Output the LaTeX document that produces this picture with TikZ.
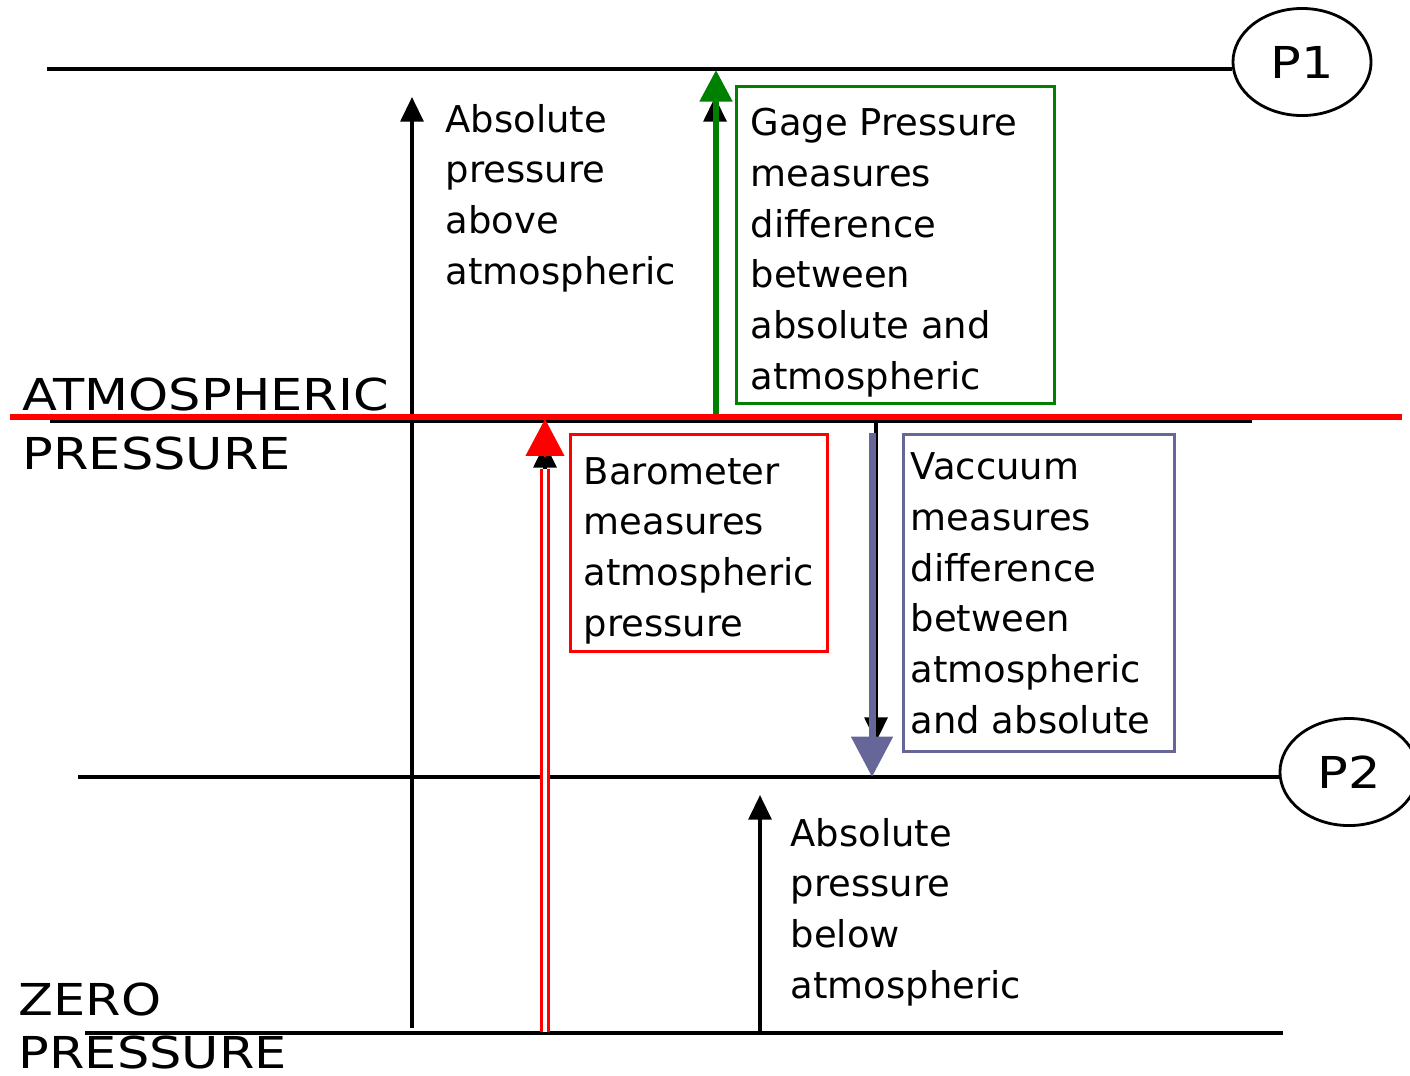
\documentclass[tikz,border=0pt]{standalone}
\usepackage{fontspec}
\setmainfont{DejaVu Sans}
\newfontfamily\bigfont[FakeStretch=1.16]{DejaVu Sans}
\usetikzlibrary{arrows.meta,shapes.geometric,calc}
\definecolor{gagegreen}{RGB}{0,128,0}
\definecolor{vacblue}{RGB}{102,102,153}
\begin{document}
\begin{tikzpicture}[x=0.01cm,y=-0.01cm,
  hl/.style={line width=1pt,black},
  lbl/.style={font=\fontsize{10.5}{14.4}\selectfont,align=left,anchor=base west,inner sep=0pt},
  biglbl/.style={font=\bigfont\fontsize{12.5}{15}\selectfont,anchor=base west,inner sep=0pt},
  blk/.style={line width=1pt,black,-{Triangle[width=6.5pt,length=7pt]}},
  ell/.style={draw,ellipse,line width=0.8pt,minimum width=1.38cm,minimum height=1.07cm,inner sep=0pt,font=\bigfont\fontsize{12.5}{15}\selectfont},
  boxfr/.style={anchor=north west,inner sep=0pt,line width=0.9pt}]
\useasboundingbox (0,0) rectangle (1410,1075);

% pressure reference ellipses
\node[ell] (p1) at (1302,62) {P1};
\node[ell] (p2) at (1349,772) {P2};

% horizontal levels
\coordinate (t0) at (47,69);
\draw[hl] (t0) -- (t0 -| p1.west);
\coordinate (m0) at (78,777);
\draw[hl] (m0) -- (m0 -| p2.west);
\coordinate (z0) at (85,1033);
\coordinate (z1) at (1283,1033);
\draw[hl] (z0) -- (z1);
\coordinate (b0) at (50,421);
\coordinate (b1) at (1252,421);
\draw[hl] (b0) -- (b1);

% vertical arrows (black)
\coordinate (a1s) at (412,1028);
\coordinate (a1e) at (412,97);
\draw[blk] (a1s) -- (a1e);
\coordinate (a2s) at (715,415);
\coordinate (a2e) at (715,97);
\draw[blk] (a2s) -- (a2e);
\coordinate (a3s) at (545,1030);
\coordinate (a3e) at (545,443);
\draw[blk] (a3s) -- (a3e);
\coordinate (a4s) at (876,421);
\coordinate (a4e) at (876,742);
\draw[blk] (a4s) -- (a4e);
\coordinate (a5s) at (760,1032);
\coordinate (a5e) at (760,795);
\draw[blk] (a5s) -- (a5e);

% gage (green)
\coordinate (gs) at (716,415);
\coordinate (ge) at (716,70);
\draw[gagegreen,line width=1.8pt,-{Triangle[width=9pt,length=9pt]}] (gs) -- (ge);

% barometer (red double)
\coordinate (rs) at (545,1032);
\coordinate (re) at (545,419);
\draw[red,line width=0.7pt,double=white,double distance=1.2pt] (rs) -- ($(re)+(0,50)$);
\draw[red,line width=0.5pt,-{Triangle[width=11pt,length=10.5pt]}] ($(re)+(0,38)$) -- (re);

% vacuum (slate)
\coordinate (vs) at (872,433);
\coordinate (ve) at (872,777);
\draw[vacblue,line width=2pt,-{Triangle[width=11.5pt,length=11.5pt]}] (vs) -- (ve);

% red atmospheric line
\coordinate (r0) at (10,417);
\coordinate (r1) at (1402,417);
\draw[red,line width=1.7pt] (r0) -- (r1);

% boxes
\node[boxfr,draw=gagegreen,minimum width=3.18cm,minimum height=3.17cm] (gbox) at (735,85) {};
\node[boxfr,draw=red,minimum width=2.57cm,minimum height=2.17cm] (bbox) at (569,433) {};
\node[boxfr,draw=vacblue,minimum width=2.71cm,minimum height=3.17cm] (vbox) at (902,433) {};

% texts (anchored at the baseline of their last line)
\node[lbl] (t1) at (445,284) {Absolute\\pressure\\above\\atmospheric};
\node[lbl] (t2) at (750,389) {Gage Pressure\\measures\\difference\\between\\absolute and\\atmospheric};
\node[lbl] (t3) at (583,636) {Barometer\\measures\\atmospheric\\pressure};
\node[lbl] (t4) at (910,733) {Vaccuum\\measures\\difference\\between\\atmospheric\\and absolute};
\node[lbl] (t5) at (790,998) {Absolute\\pressure\\below\\atmospheric};

\node[biglbl] (atm1) at (22,410) {ATMOSPHERIC};
\node[biglbl] (atm2) at (22,469) {PRESSURE};
\node[biglbl] (zr1) at (18,1015) {ZERO};
\node[biglbl] (zr2) at (18,1068) {PRESSURE};
\end{tikzpicture}
\end{document}
